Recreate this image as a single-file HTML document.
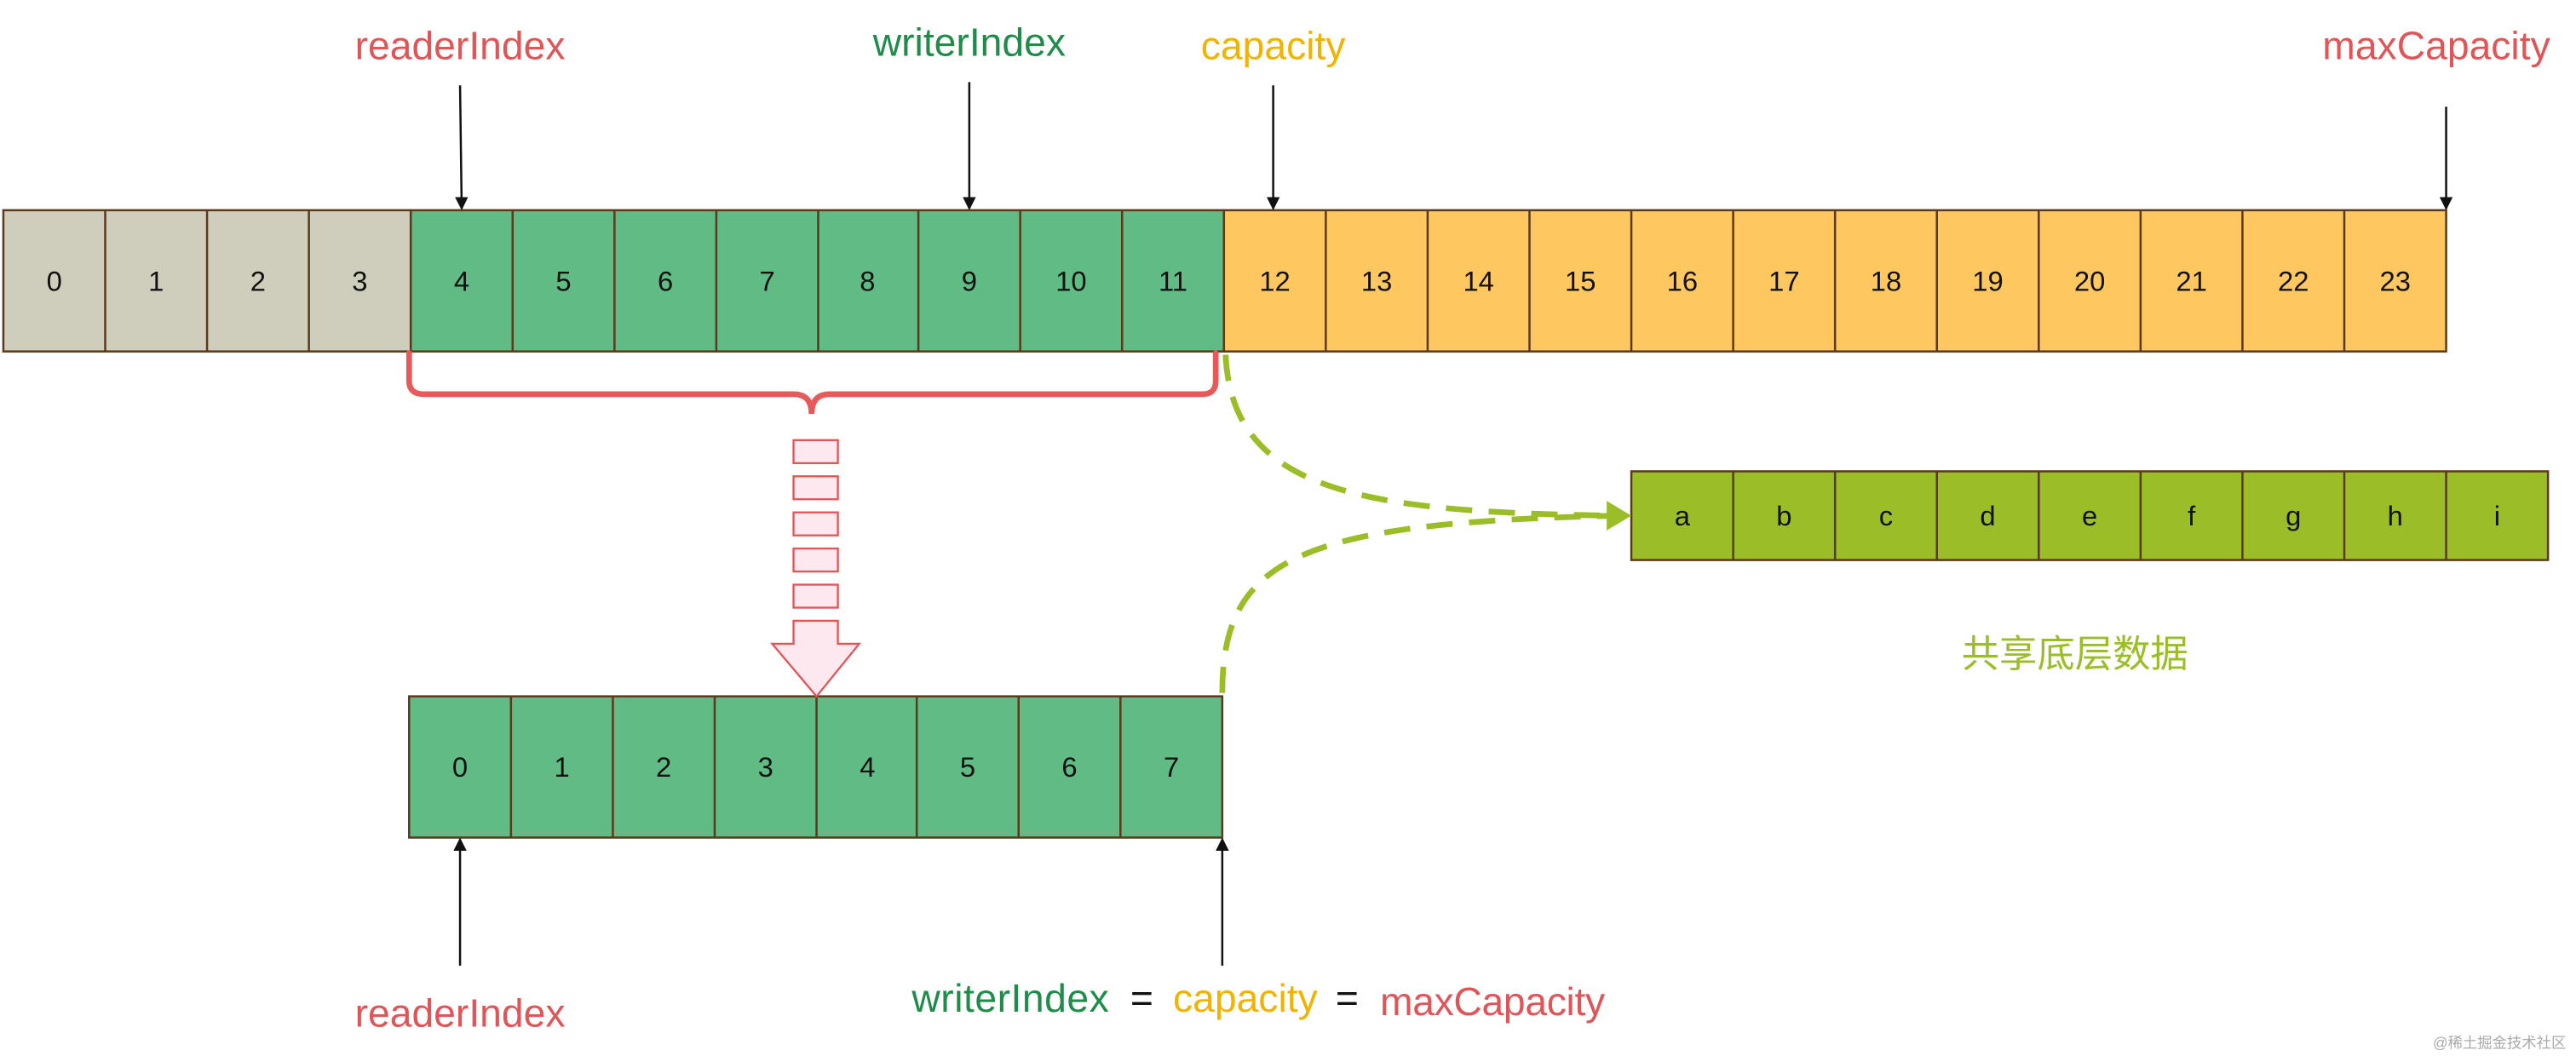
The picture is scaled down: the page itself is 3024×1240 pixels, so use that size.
<!DOCTYPE html>
<html><head><meta charset="utf-8"><style>html,body{margin:0;padding:0;background:#fff}svg{display:block}</style></head>
<body>
<svg xmlns="http://www.w3.org/2000/svg" width="3024" height="1240" viewBox="0 0 1568 643" font-family="Liberation Sans, Noto Sans CJK SC, sans-serif">
<defs>
<marker id="ah" markerWidth="8" markerHeight="8" refX="7" refY="4" orient="auto" markerUnits="userSpaceOnUse"><path d="M0,0 L8,4 L0,8 z" fill="#111"/></marker>
</defs>
<rect width="1568" height="643" fill="#fff"/>
<g stroke="#5a3a1a" stroke-width="1.3">
<rect x="2" y="128" width="248" height="86" fill="#cfcdbb"/>
<rect x="250" y="128" width="495" height="86" fill="#60bb85"/>
<rect x="745" y="128" width="744" height="86" fill="#fec75f"/>
<path d="M64,128V214M126,128V214M188,128V214M312,128V214M374,128V214M436,128V214M498,128V214M559,128V214M621,128V214M683,128V214M807,128V214M869,128V214M931,128V214M993,128V214M1055,128V214M1117,128V214M1179,128V214M1241,128V214M1303,128V214M1365,128V214M1427,128V214"/>
<rect x="249" y="424" width="495" height="86" fill="#60bb85"/>
<path d="M311,424V510M373,424V510M435,424V510M497,424V510M558,424V510M620,424V510M682,424V510"/>
<rect x="993" y="287" width="558" height="54" fill="#9bbd27"/>
<path d="M1055,287V341M1117,287V341M1179,287V341M1241,287V341M1303,287V341M1365,287V341M1427,287V341M1489,287V341"/>
</g>
<g font-size="17" fill="#111" text-anchor="middle">
<text x="33" y="177">0</text><text x="95" y="177">1</text><text x="157" y="177">2</text><text x="219" y="177">3</text><text x="281" y="177">4</text><text x="343" y="177">5</text><text x="405" y="177">6</text><text x="467" y="177">7</text><text x="528" y="177">8</text><text x="590" y="177">9</text><text x="652" y="177">10</text><text x="714" y="177">11</text><text x="776" y="177">12</text><text x="838" y="177">13</text><text x="900" y="177">14</text><text x="962" y="177">15</text><text x="1024" y="177">16</text><text x="1086" y="177">17</text><text x="1148" y="177">18</text><text x="1210" y="177">19</text><text x="1272" y="177">20</text><text x="1334" y="177">21</text><text x="1396" y="177">22</text><text x="1458" y="177">23</text>
<text x="280" y="473">0</text><text x="342" y="473">1</text><text x="404" y="473">2</text><text x="466" y="473">3</text><text x="528" y="473">4</text><text x="589" y="473">5</text><text x="651" y="473">6</text><text x="713" y="473">7</text>
<text x="1024" y="320">a</text><text x="1086" y="320">b</text><text x="1148" y="320">c</text><text x="1210" y="320">d</text><text x="1272" y="320">e</text><text x="1334" y="320">f</text><text x="1396" y="320">g</text><text x="1458" y="320">h</text><text x="1520" y="320">i</text>
</g>
<g font-size="24" text-anchor="middle">
<text x="280" y="36" fill="#e05558">readerIndex</text>
<text x="590" y="34" fill="#1f8c4a">writerIndex</text>
<text x="775" y="36" fill="#f0b400">capacity</text>
<text x="1483" y="36" fill="#e05558">maxCapacity</text>
<text x="280" y="625" fill="#e05558">readerIndex</text>
</g>
<g font-size="24">
<text x="555" y="616" fill="#1f8c4a" textLength="120">writerIndex</text>
<text x="688" y="616" fill="#111">=</text>
<text x="714" y="616" fill="#f0b400" textLength="88">capacity</text>
<text x="813" y="616" fill="#111">=</text>
<text x="840" y="618" fill="#e05558" textLength="137">maxCapacity</text>
</g>
<text x="1263" y="406" font-size="23" fill="#9bbd27" text-anchor="middle">共享底层数据</text>
<text x="1562" y="638" font-size="9" fill="#aaa" text-anchor="end">@稀土掘金技术社区</text>
<g stroke="#111" stroke-width="1.3" marker-end="url(#ah)">
<line x1="280" y1="52" x2="281" y2="127"/>
<line x1="590" y1="50" x2="590" y2="127"/>
<line x1="775" y1="52" x2="775" y2="127"/>
<line x1="1489" y1="65" x2="1489" y2="127"/>
<line x1="280" y1="588" x2="280" y2="511"/>
<line x1="744" y1="588" x2="744" y2="511"/>
</g>
<path d="M249,215 V232 Q249,240 258,240 H483 Q494,240 494,252 Q494,240 505,240 H732 Q740,240 740,232 V215" fill="none" stroke="#e85a5a" stroke-width="3.5" stroke-linecap="round"/>
<g fill="#fde8ef" stroke="#e05558" stroke-width="1.2">
<rect x="483" y="268" width="27" height="14"/><rect x="483" y="290" width="27" height="14"/><rect x="483" y="312" width="27" height="14"/><rect x="483" y="334" width="27" height="14"/><rect x="483" y="356" width="27" height="14"/>
<path d="M483,378 H510 V392 H523 L497,424 L470,392 H483 Z"/>
</g>
<g fill="none" stroke="#9bbd27" stroke-width="3.5" stroke-dasharray="16,10">
<path d="M746,216 C750,300 830,312 985,314"/>
<path d="M744,422 C744,340 790,318 985,314"/>
</g>
<path d="M978,305 L993,314 L978,323 Z" fill="#9bbd27"/>
</svg>
</body></html>
